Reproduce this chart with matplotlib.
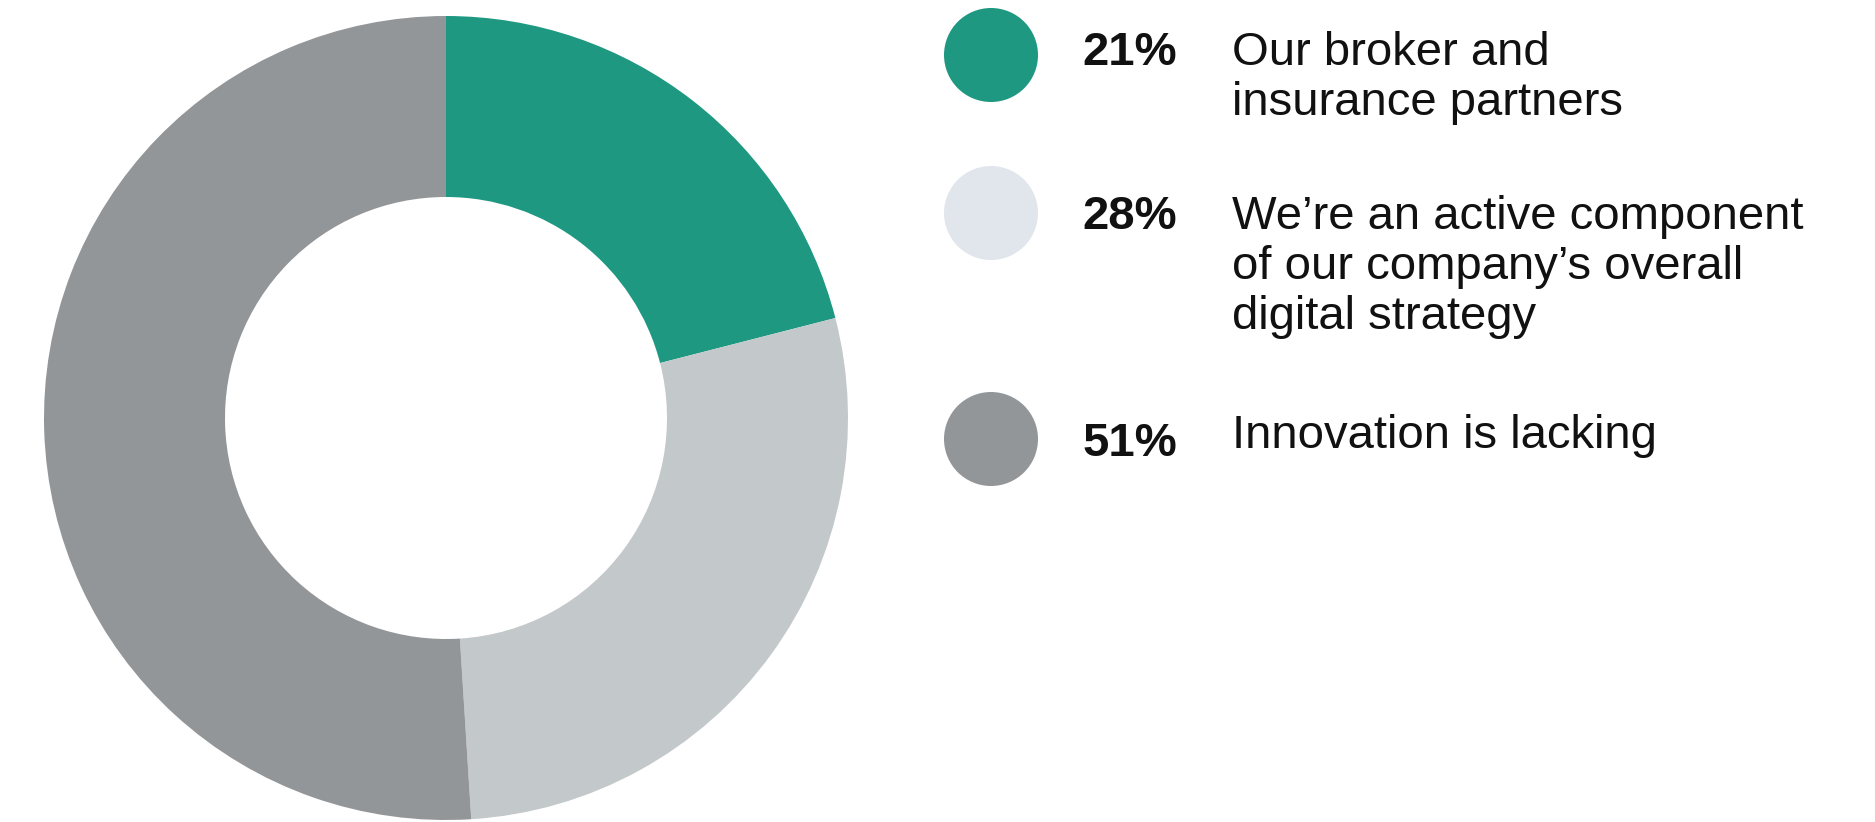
import matplotlib.pyplot as plt
from matplotlib.patches import Circle

# survey shares
shares = [21, 28, 51]
labels = [
    "Our broker and\ninsurance partners",
    "We\u2019re an active component\nof our company\u2019s overall\ndigital strategy",
    "Innovation is lacking",
]
ring_colors = ["#1E9880", "#C3C8CB", "#939698"]
key_colors = ["#1E9880", "#E1E5EC", "#939698"]

W, H = 1875, 822

plt.rcParams['font.family'] = ['Liberation Sans', 'DejaVu Sans']

fig = plt.figure(figsize=(W / 100, H / 100), dpi=100)
ax = fig.add_axes([0, 0, 1, 1])
ax.set_xlim(0, W)
ax.set_ylim(0, H)
ax.set_aspect('equal')
ax.axis('off')

# donut, clockwise from 12 o'clock
outer_r, inner_r = 402, 221
ax.pie(shares, colors=ring_colors, startangle=90, counterclock=False,
       center=(446, H - 418), radius=outer_r,
       wedgeprops=dict(width=outer_r - inner_r, linewidth=0),
       frame=True)
ax.set_xlim(0, W)
ax.set_ylim(0, H)
ax.axis('off')

# key rows: marker centre, first text baseline, percent baseline (pixels from top)
rows = [(55, 65, 65), (213, 229, 229), (439, 448, 456)]
line_step = 50

for (cy, base, pct_base), pct, lab, col in zip(rows, shares, labels, key_colors):
    ax.add_patch(Circle((991, H - cy), 47, color=col, lw=0))
    ax.text(1082, H - pct_base, f"{pct}%", fontsize=34, fontweight='bold',
            color='#111111', va='baseline', ha='left')
    for i, line in enumerate(lab.split("\n")):
        ax.text(1232, H - base - i * line_step, line, fontsize=34,
                color='#111111', va='baseline', ha='left')

fig.savefig("out.png", dpi=100)
